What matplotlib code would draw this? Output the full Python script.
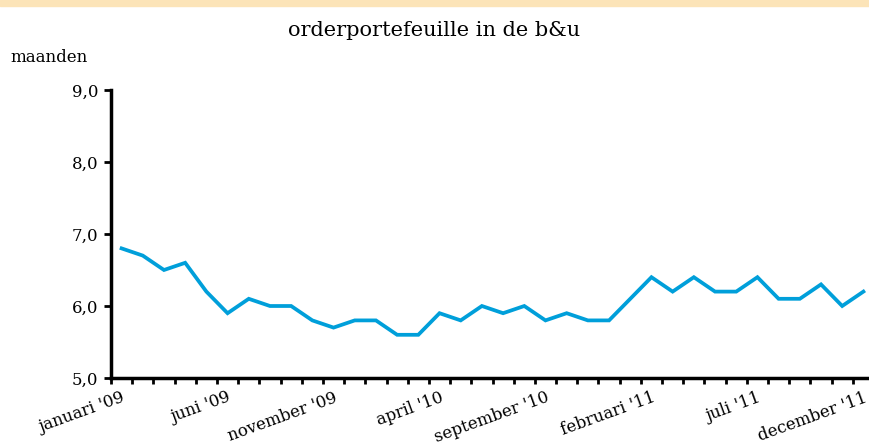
import matplotlib
matplotlib.use("Agg")
import matplotlib.pyplot as plt
import numpy as np

months = ["januari '09", "februari '09", "maart '09", "april '09", "mei '09", "juni '09",
          "juli '09", "augustus '09", "september '09", "oktober '09", "november '09", "december '09",
          "januari '10", "februari '10", "maart '10", "april '10", "mei '10", "juni '10",
          "juli '10", "augustus '10", "september '10", "oktober '10", "november '10", "december '10",
          "januari '11", "februari '11", "maart '11", "april '11", "mei '11", "juni '11",
          "juli '11", "augustus '11", "september '11", "oktober '11", "november '11", "december '11"]
values = [6.8, 6.7, 6.5, 6.6, 6.2, 5.9, 6.1, 6.0, 6.0, 5.8, 5.7, 5.8,
          5.8, 5.6, 5.6, 5.9, 5.8, 6.0, 5.9, 6.0, 5.8, 5.9, 5.8, 5.8,
          6.1, 6.4, 6.2, 6.4, 6.2, 6.2, 6.4, 6.1, 6.1, 6.3, 6.0, 6.2]
yticks = [5.0, 6.0, 7.0, 8.0, 9.0]
label_step = 5

plt.rcParams['font.family'] = ['DejaVu Serif']

fig = plt.figure(figsize=(8.69, 4.45), dpi=100)
# top strip
fig.patches.append(matplotlib.patches.Rectangle((0, 1 - 6/445), 1, 6/445, transform=fig.transFigure,
                                                color="#FCE4B8", zorder=0))

left = 111/869
bottom = 1 - 378/445
top = 1 - 90/445
width = 763/869
ax = fig.add_axes([left, bottom, width, top - bottom])

x = np.arange(len(values))
ax.plot(x, values, color="#009FDA", lw=2.7, solid_joinstyle='miter')

ax.set_xlim(-0.5, len(values) - 0.5)
ax.set_ylim(5.0, 9.0)
ax.set_yticks(yticks)
ax.set_yticklabels([f"{v:.1f}".replace('.', ',') for v in yticks], fontsize=12)

ax.set_xticks(np.arange(len(values) + 1) - 0.5)
ax.set_xticklabels([])
ax.set_xticks(x[::label_step], minor=True)
ax.set_xticklabels([months[i] for i in x[::label_step]], minor=True, rotation=20,
                   ha='right', rotation_mode='anchor', fontsize=12)
ax.tick_params(axis='x', which='major', direction='out', length=4, width=2)
ax.tick_params(axis='x', which='minor', length=0, pad=8)
ax.tick_params(axis='y', direction='out', length=5, width=2, pad=4)

for s in ['top', 'right']:
    ax.spines[s].set_visible(False)
for s in ['left', 'bottom']:
    ax.spines[s].set_linewidth(2.5)

fig.text(0.5, 1 - 30/445, "orderportefeuille in de b&u", ha='center', va='center', fontsize=15)
fig.text(10/869, 1 - 57/445, "maanden", ha='left', va='center', fontsize=12)

fig.savefig("out.png", dpi=100)
